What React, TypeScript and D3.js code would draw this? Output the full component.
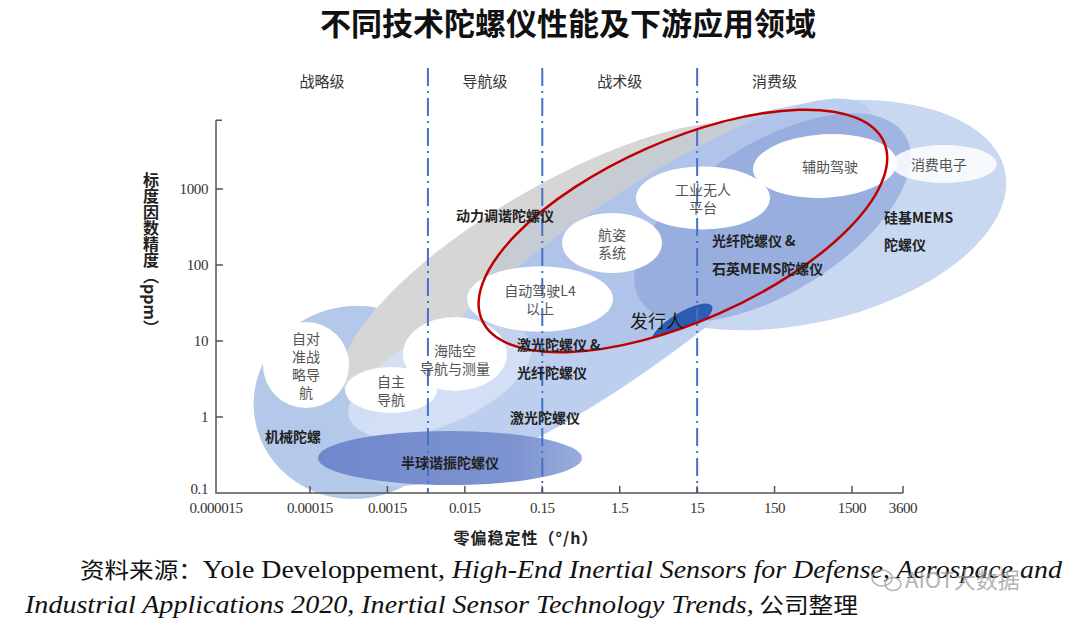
import React from 'react';
import * as d3 from 'd3';

// ---------- data ----------
const xTickValues = [0.000015, 0.00015, 0.0015, 0.015, 0.15, 1.5, 15, 150, 1500, 3600];
const xTickLabels = ['0.000015', '0.00015', '0.0015', '0.015', '0.15', '1.5', '15', '150', '1500', '3600'];
const yTickValues = [0.1, 1, 10, 100, 1000];
const yTickLabels = ['0.1', '1', '10', '100', '1000'];
const gradeNames = ['战略级', '导航级', '战术级', '消费级'];
const gradeBounds = [0.000015, 0.005, 0.15, 15, 1500];

// technology regions: ends of major axis (°/h, ppm) and minor/major ratio
const techRegions = [
  { id: 'consumer', x1: 0.72, y1: 120, x2: 20700, y2: 1726, ratio: 0.52 },
  { id: 'mechanical', x1: 0.000039, y1: 0.914, x2: 0.0112, y2: 2.64, ratio: 0.95 },
  { id: 'dtg', x1: 0.000425, y1: 2.26, x2: 131, y2: 4416, ratio: 0.32 },
  { id: 'laser', x1: 0.000769, y1: 0.173, x2: 2042, y2: 10940, ratio: 0.26 },
  { id: 'fog', x1: 2.74, y1: 34.6, x2: 3724, y2: 5140, ratio: 0.48 },
  { id: 'navHalo', x1: 0.000493, y1: 0.914, x2: 0.104, y2: 10.3, ratio: 0.45 },
  { id: 'hrg', x1: 0.00019, y1: 0.289, x2: 0.489, y2: 0.289, ratio: 0.205 },
];
const issuerRegion = { x1: 3.92, y1: 9.7, x2: 23.3, y2: 28.9, ratio: 0.32 };
const issuerFocus = { x1: 0.0249, y1: 18.9, x2: 2594, y2: 4150, ratio: 0.41 };

const appFields = [
  { lines: ['自对', '准战', '略导', '航'], x1: 0.0000474, y1: 4.83, x2: 0.000479, y2: 4.83, ratio: 1.0 },
  { lines: ['自主', '导航'], x1: 0.000425, y1: 2.26, x2: 0.00655, y2: 2.26, ratio: 0.5 },
  { lines: ['海陆空', '导航与测量'], x1: 0.00238, y1: 6.75, x2: 0.0525, y2: 6.75, ratio: 0.71 },
  { lines: ['自动驾驶L4', '以上'], x1: 0.016, y1: 35.7, x2: 1.23, y2: 35.7, ratio: 0.45 },
  { lines: ['航姿', '系统'], x1: 0.27, y1: 195, x2: 5.27, y2: 195, ratio: 0.6 },
  { lines: ['工业无人', '平台'], x1: 2.43, y1: 762, x2: 131, y2: 762, ratio: 0.47 },
  { lines: ['辅助驾驶'], x1: 78.9, y1: 1778, x2: 3245, y2: 2265, ratio: 0.44 },
  { lines: ['消费电子'], x1: 2930, y1: 2133, x2: 18000, y2: 2133, ratio: 0.36 },
];

const techLabels = [
  { text: '动力调谐陀螺仪', x: 0.0494, y: 455, anchor: 'middle' },
  { text: '光纤陀螺仪 &', x: 23.3, y: 213, anchor: 'start' },
  { text: '石英MEMS陀螺仪', x: 23.3, y: 91.4, anchor: 'start' },
  { text: '硅基MEMS', x: 2594, y: 428, anchor: 'start' },
  { text: '陀螺仪', x: 2594, y: 189, anchor: 'start' },
  { text: '激光陀螺仪 &', x: 0.0706, y: 9.14, anchor: 'start' },
  { text: '光纤陀螺仪', x: 0.0706, y: 3.91, anchor: 'start' },
  { text: '激光陀螺仪', x: 0.0574, y: 1.0, anchor: 'start' },
  { text: '机械陀螺', x: 0.0000498, y: 0.562, anchor: 'start' },
  { text: '半球谐振陀螺仪', x: 0.00964, y: 0.256, anchor: 'middle' },
];
const issuerLabel = { text: '发行人', x: 2.04, y: 18.9 };

// ---------- styles ----------
const regionFill: Record<string, string> = {
  consumer: '#c9d8f1',
  mechanical: '#b4c8ea',
  dtg: '#d6d6d6',
  laser: '#bccfee',
  fog: '#a0b5e2',
  navHalo: '#d6e2f5',
  hrg: 'url(#hrgGrad)',
};
const CJK = '"Noto Sans CJK SC", "Noto Sans", sans-serif';
const SERIF = '"Liberation Serif", "DejaVu Serif", serif';

// ---------- scales ----------
const x = d3.scaleLog().domain([0.000015, 0.00015, 1500, 3600]).range([216, 310, 852, 903]);
const y = d3.scaleLog().domain([0.1, 1000]).range([493, 189]);

function geom(r: { x1: number; y1: number; x2: number; y2: number; ratio: number }) {
  const px1 = x(r.x1), py1 = y(r.y1), px2 = x(r.x2), py2 = y(r.y2);
  const cx = (px1 + px2) / 2, cy = (py1 + py2) / 2;
  const rx = Math.hypot(px2 - px1, py2 - py1) / 2;
  const ry = rx * r.ratio;
  const ang = (Math.atan2(py2 - py1, px2 - px1) * 180) / Math.PI;
  return { cx, cy, rx, ry, ang };
}

function Ell(props: { r: any; fill?: string; stroke?: string; sw?: number; opacity?: number }) {
  const g = geom(props.r);
  return (
    <ellipse
      cx={g.cx}
      cy={g.cy}
      rx={g.rx}
      ry={g.ry}
      transform={`rotate(${g.ang} ${g.cx} ${g.cy})`}
      fill={props.fill ?? 'none'}
      stroke={props.stroke ?? 'none'}
      strokeWidth={props.sw ?? 0}
      opacity={props.opacity ?? 1}
    />
  );
}

export default function App() {
  const axisTop = y(8000);
  const focusG = geom(issuerFocus);
  return (
    <svg width={1080} height={630} style={{ position: 'absolute', left: 0, top: 0, background: '#fff' }}>
      <defs>
        <linearGradient id="hrgGrad" x1="0" x2="1" y1="0" y2="0">
          <stop offset="0" stopColor="#6f88cb" />
          <stop offset="0.75" stopColor="#7d94d1" />
          <stop offset="1" stopColor="#9aaddd" />
        </linearGradient>
        <clipPath id="focusClip">
          <ellipse cx={focusG.cx} cy={focusG.cy} rx={focusG.rx} ry={focusG.ry}
            transform={`rotate(${focusG.ang} ${focusG.cx} ${focusG.cy})`} />
        </clipPath>
      </defs>

      {/* title */}
      <text x={568} y={35} textAnchor="middle" fontFamily={CJK} fontSize={31} fontWeight={700} fill="#111">
        不同技术陀螺仪性能及下游应用领域
      </text>

      {/* grade labels */}
      {gradeNames.map((g, i) => (
        <text key={g} x={(x(gradeBounds[i]) + x(gradeBounds[i + 1])) / 2} y={80} textAnchor="middle"
          dominantBaseline="central" fontFamily={CJK} fontSize={15} fill="#333">{g}</text>
      ))}

      {/* technology regions */}
      {techRegions.map((r) => (
        <Ell key={r.id} r={r} fill={regionFill[r.id]} opacity={r.id === 'navHalo' ? 0.85 : 1} />
      ))}

      {/* inside focus ellipse tint */}
      <Ell r={issuerFocus} fill="#5a7fc8" opacity={0.12} />
      <g clipPath="url(#focusClip)">
        <Ell r={issuerRegion} fill="#2c5db3" />
      </g>

      {/* application fields */}
      {appFields.map((a, i) => (
        <Ell key={i} r={a} fill="#ffffff" opacity={i === 7 ? 0.85 : 1} />
      ))}

      {/* grade boundaries */}
      {gradeBounds.slice(1, 4).map((b) => (
        <line key={b} x1={x(b)} x2={x(b)} y1={68} y2={493} stroke="#4472c4" strokeWidth={2}
          strokeDasharray="18 5 2 5" />
      ))}

      {/* focus ellipse outline */}
      <Ell r={issuerFocus} stroke="#c00000" sw={2.5} />

      {/* application field texts */}
      {appFields.map((a, i) => {
        const g = geom(a);
        const n = a.lines.length;
        return a.lines.map((l, j) => (
          <text key={`${i}-${j}`} x={g.cx + (i === 6 ? 5 : i === 7 ? -5 : 0)} y={g.cy + (j - (n - 1) / 2) * 18 + (i === 2 ? 5 : 0)}
            textAnchor="middle" dominantBaseline="central" fontFamily={CJK} fontSize={14} fill="#555">{l}</text>
        ));
      })}

      {/* technology labels */}
      {techLabels.map((t, i) => (
        <text key={i} x={x(t.x)} y={y(t.y)} textAnchor={t.anchor as any} dominantBaseline="central"
          fontFamily={CJK} fontSize={14} fontWeight={700} fill="#222">{t.text}</text>
      ))}
      <text x={x(issuerLabel.x)} y={y(issuerLabel.y)} dominantBaseline="central" fontFamily={CJK}
        fontSize={18} fill="#1a1a1a">{issuerLabel.text}</text>

      {/* axes */}
      <g stroke="#555" strokeWidth={1.5} fill="none">
        <path d={`M${x(0.000015)},${axisTop}H${x(0.000015) + 6}M${x(0.000015)},${axisTop}V${y(0.1)}H${x(3600)}`} />
        {yTickValues.slice(1).map((v) => (
          <line key={v} x1={x(0.000015)} x2={x(0.000015) + 7} y1={y(v)} y2={y(v)} />
        ))}
        {xTickValues.slice(1).map((v) => (
          <line key={v} x1={x(v)} x2={x(v)} y1={y(0.1)} y2={y(0.1) - 7} />
        ))}
      </g>
      {xTickValues.map((v, i) => (
        <text key={v} x={x(v)} y={513} textAnchor="middle" fontFamily={SERIF} fontSize={15}
          letterSpacing={-0.4} fill="#333">{xTickLabels[i]}</text>
      ))}
      {yTickValues.map((v, i) => (
        <text key={v} x={208} y={y(v) - (i === 0 ? 4 : 0)} textAnchor="end" dominantBaseline="central"
          fontFamily={SERIF} fontSize={15} letterSpacing={-0.4} fill="#333">{yTickLabels[i]}</text>
      ))}

      {/* axis titles */}
      <text x={151} y={172} style={{ writingMode: 'vertical-rl' } as any} fontFamily={CJK} fontSize={16}
        fontWeight={700} fill="#222">标度因数精度（ppm）</text>
      <text x={526} y={537} textAnchor="middle" dominantBaseline="central" fontFamily={CJK} fontSize={16}
        letterSpacing={1} fontWeight={700} fill="#222">零偏稳定性（°/h）</text>

      {/* source */}
      <text x={80} y={578} fontFamily={SERIF} fontSize={25} fill="#111" textLength={982} lengthAdjust="spacingAndGlyphs">
        <tspan fontFamily={CJK} fontSize={22}>资料来源：</tspan>
        <tspan>Yole Developpement, </tspan>
        <tspan fontStyle="italic">High-End Inertial Sensors for Defense, Aerospace and</tspan>
      </text>
      <text x={25} y={613} fontFamily={SERIF} fontSize={25} fill="#111" textLength={833} lengthAdjust="spacingAndGlyphs">
        <tspan fontStyle="italic">Industrial Applications 2020, Inertial Sensor Technology Trends,</tspan>
        <tspan fontFamily={CJK} fontSize={22}> 公司整理</tspan>
      </text>

      {/* watermark */}
      <text x={905} y={588} fontFamily={CJK} fontSize={22} fill="#9a9a9a" opacity={0.75}>AIOT大数据</text>
      <g stroke="#9a9a9a" strokeWidth={1.5} fill="none" opacity={0.75}>
        <ellipse cx={882} cy={578} rx={10} ry={8} />
        <ellipse cx={893} cy={584} rx={8} ry={6.5} />
      </g>
    </svg>
  );
}
